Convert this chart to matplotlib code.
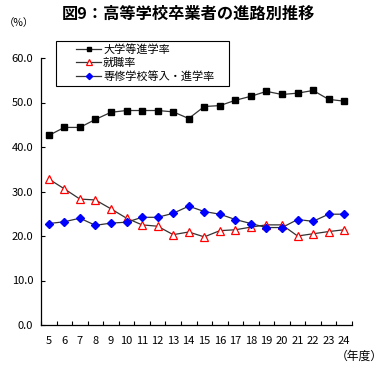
import matplotlib.pyplot as plt
from matplotlib.patches import Rectangle
import numpy as np

plt.rcParams['font.family'] = ['Noto Sans CJK JP', 'DejaVu Sans']

years = list(range(5, 25))
daigaku = [42.6, 44.4, 44.4, 46.2, 47.8, 48.2, 48.2, 48.2, 47.9, 46.4,
           49.1, 49.3, 50.5, 51.4, 52.5, 51.8, 52.1, 52.7, 50.7, 50.3]
shushoku = [32.8, 30.6, 28.3, 28.1, 26.1, 24.0, 22.5, 22.2, 20.3, 20.9,
            19.8, 21.2, 21.4, 22.0, 22.5, 22.5, 20.0, 20.5, 21.0, 21.4]
senshu = [22.8, 23.2, 24.0, 22.4, 22.9, 23.1, 24.2, 24.2, 25.1, 26.7,
          25.5, 24.9, 23.7, 22.8, 21.9, 21.9, 23.7, 23.3, 24.9, 24.9]
labels = ['大学等進学率', '就職率', '専修学校等入・進学率']

fig = plt.figure(figsize=(3.88, 3.70), dpi=100)
ax = fig.add_axes([41/388, 45/370, 311/388, 267/370])

x = np.arange(len(years))
ax.plot(x, daigaku, color='#333333', lw=0.9, marker='s', ms=5,
        mfc='black', mec='black', label=labels[0])
ax.plot(x, shushoku, color='#333333', lw=0.9, marker='^', ms=6,
        mfc='white', mec='red', mew=0.9, label=labels[1])
ax.plot(x, senshu, color='#333333', lw=0.9, marker='D', ms=4.5,
        mfc='blue', mec='blue', label=labels[2])

ax.set_xlim(-0.5, len(years) - 0.5)
ax.set_ylim(0, 60)
ax.set_xticks(x)
ax.set_xticklabels([str(y) for y in years])
ax.set_xticks(np.arange(-0.5, len(years) - 0.4, 1), minor=True)
ax.tick_params(axis='x', which='major', length=0, pad=8, labelsize=8)
ax.tick_params(axis='x', which='minor', direction='in', length=3, width=0.8)
ax.set_yticks(range(0, 61, 10))
ax.set_yticklabels([f'{v:.1f}' for v in range(0, 61, 10)])
ax.tick_params(axis='y', direction='in', length=3, width=0.8, labelsize=8, pad=5.5)
for s in ['top', 'right']:
    ax.spines[s].set_visible(False)
for s in ['left', 'bottom']:
    ax.spines[s].set_linewidth(0.9)

fig.text(188/388, 1 - 14/370, '図9：高等学校卒業者の進路別推移', ha='center', va='center',
         fontsize=11.7, fontweight='bold')
fig.text(19/388, 1 - 23/370, '（%）', ha='center', va='center', fontsize=7.5)
fig.text(359/388, 1 - 356/370, '（年度）', ha='center', va='center', fontsize=8.5)

# legend frame drawn separately so the entries can sit indented
frame = Rectangle((56/388, (370-86)/370), 173/388, 45/370,
                  transform=fig.transFigure, fc='white', ec='black', lw=0.8,
                  clip_on=False, zorder=4)
ax.add_patch(frame)
leg = ax.legend(loc='upper left', borderaxespad=0,
                bbox_to_anchor=(73/388, 1 - 41/370),
                bbox_transform=fig.transFigure, fontsize=8, frameon=False,
                handlelength=2.2, markerscale=0.7,
                labelspacing=0.25, borderpad=0.3, handletextpad=0.2)
leg.set_zorder(5)

fig.savefig('out.png', dpi=100)
